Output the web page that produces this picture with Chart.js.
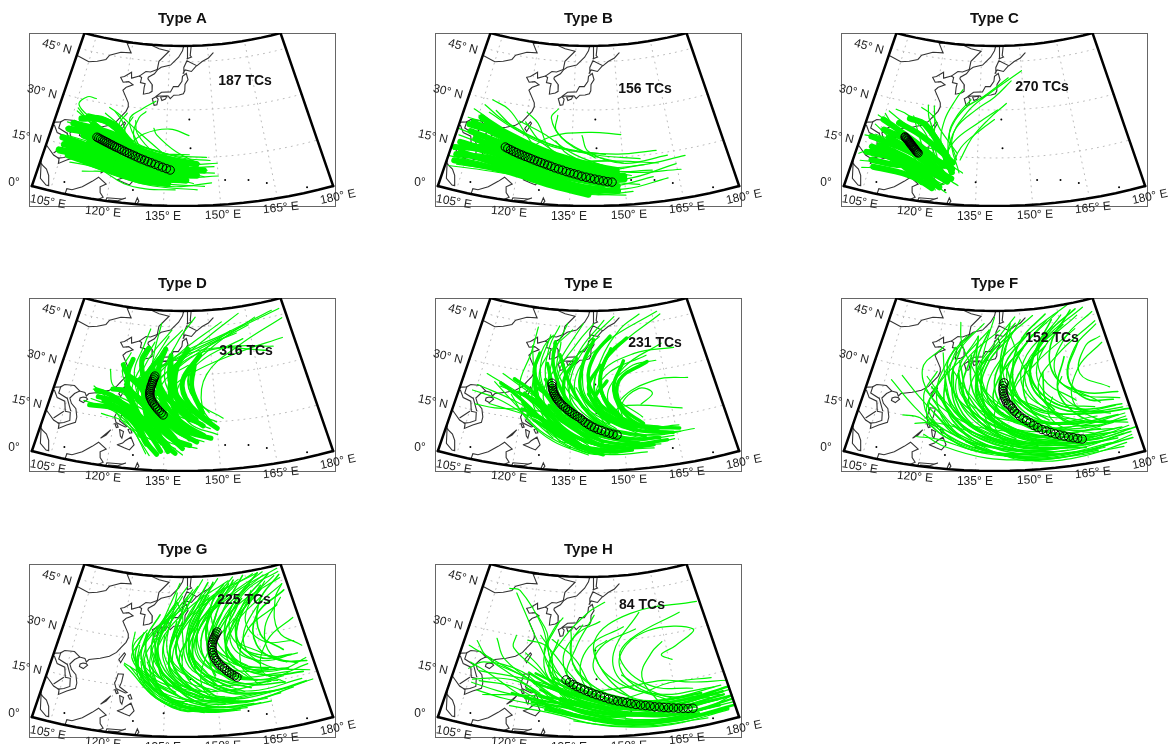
<!DOCTYPE html>
<html>
<head>
<meta charset="utf-8">
<script src="https://cdn.jsdelivr.net/npm/chart.js@4"></script>
<style>
html,body{margin:0;padding:0;background:#fff;width:1173px;height:744px;overflow:hidden;}
#page{position:relative;width:1173px;height:744px;overflow:hidden;}
canvas{position:absolute;}
</style>
</head>
<body>
<div id="page"></div>
<script>
// titles and counts
const typeNames = ['Type A','Type B','Type C','Type D','Type E','Type F','Type G','Type H'];
const tcCounts = [187,156,270,316,231,152,225,84];
const latTicks = ['45° N','30° N','15° N','0°'];
const lonTicks = ['105° E','120° E','135° E','150° E','165° E','180° E'];
const gridLons = [105,120,135,150,165];
const gridLats = [15,30,45];

// mean tracks (lon, lat)
const meanLonA = [136.5,135.4,134.3,133.2,132.1,131.0,130.0,129.0,128.0,127.1,126.2,125.3,124.4,123.6,122.8,122.0,121.2,120.4,119.7,119.0,118.3,117.6,117.0,116.4,115.8,115.2,114.6,114.0];
const meanLatA = [11.2,11.6,12.0,12.4,12.8,13.2,13.5,13.9,14.2,14.5,14.9,15.2,15.5,15.8,16.1,16.4,16.7,17.0,17.2,17.5,17.7,18.0,18.2,18.4,18.6,18.8,19.0,19.2];
const meanLonB = [146.5,145.3,144.1,142.9,141.7,140.5,139.3,138.1,137.0,135.9,134.8,133.7,132.6,131.5,130.4,129.3,128.3,127.3,126.3,125.3,124.3,123.3,122.4,121.5,120.6,119.7,118.8,117.9,117.0,116.1,115.3];
const meanLatB = [7.3,7.5,7.8,8.1,8.4,8.7,9.0,9.3,9.7,10.0,10.3,10.6,11.0,11.3,11.6,12.0,12.3,12.6,12.9,13.2,13.5,13.8,14.1,14.3,14.6,14.8,15.1,15.4,15.7,16.0,16.3];
const meanLonC = [117.6,117.3,117.0,116.7,116.4,116.2,115.9,115.7,115.4,115.2,114.9,114.7,114.5,114.3,114.0,113.8,113.5,113.3,113.0,112.8];
const meanLatC = [14.8,15.0,15.3,15.6,15.8,16.1,16.3,16.6,16.8,17.0,17.2,17.5,17.7,17.9,18.1,18.3,18.5,18.7,18.9,19.1];
const meanLonD = [134.2,133.6,133.0,132.4,131.9,131.4,130.9,130.5,130.2,129.9,129.8,129.7,129.7,129.8,129.9,130.0,130.2,130.3,130.5,130.7,130.9];
const meanLatD = [17.4,18.0,18.6,19.2,19.8,20.4,21.0,21.6,22.2,22.8,23.4,24.0,24.6,25.2,25.8,26.4,27.0,27.6,28.2,28.8,29.4];
const meanLonE = [148.1,147.0,145.9,144.8,143.7,142.7,141.7,140.8,139.9,139.0,138.2,137.5,136.7,135.9,135.1,134.4,133.7,133.0,132.3,131.6,131.0,130.5,130.1,129.7,129.3,129.0,128.7,128.5,128.3,128.2];
const meanLatE = [11.0,11.3,11.7,12.1,12.6,13.0,13.5,14.0,14.6,15.2,15.9,16.5,17.0,17.5,18.0,18.5,19.0,19.6,20.1,20.7,21.3,21.9,22.4,23.0,23.6,24.2,24.8,25.4,26.2,27.0];
const meanLonF = [164.4,163.2,162.0,160.8,159.6,158.4,157.2,156.0,154.8,153.6,152.5,151.4,150.4,149.4,148.4,147.5,146.7,146.0,145.4,144.8,144.3,143.8,143.5,143.2,143.0,142.8,142.7,142.7,142.8,143.1];
const meanLatF = [7.8,8.2,8.6,9.0,9.5,10.0,10.5,11.1,11.7,12.3,13.0,13.8,14.7,15.5,16.2,17.0,17.8,18.6,19.5,20.3,20.8,21.2,22.0,22.7,23.4,24.1,24.9,25.7,26.6,27.5];
const meanLonG = [156.3,155.6,154.9,154.2,153.5,152.9,152.3,151.6,151.1,150.6,150.2,149.9,149.7,149.6,149.6,149.7,149.9,150.2,150.5,150.9,151.3,151.7];
const meanLatG = [17.8,18.3,18.9,19.5,20.1,20.8,21.4,22.1,22.8,23.5,24.3,25.2,26.0,26.9,27.8,28.6,29.3,30.0,30.6,31.2,31.8,32.4];
const meanLonH = [168.7,167.4,166.1,164.8,163.5,162.2,160.9,159.7,158.4,157.2,155.9,154.6,153.3,152.0,150.8,149.6,148.3,147.0,145.8,144.6,143.4,142.2,141.0,139.9,138.8,137.7,136.6,135.5,134.4,133.3];
const meanLatH = [5.9,6.1,6.4,6.7,7.0,7.3,7.6,7.9,8.2,8.6,8.9,9.2,9.5,9.9,10.3,10.7,11.0,11.4,11.8,12.3,12.8,13.2,13.7,14.2,14.7,15.2,15.7,16.3,17.0,17.7];

// densest bundles of tracks in each panel (lon,lat,lon,lat,...)
const coreA = [[144,9.5,134,10,124,13,112,17],[146,11,136,12,125,15,110,19],[144,13,134,15,122,18,108,21],[141,8,131,8.5,120,11,107,14],[136,7,128,7.5,118,10,107,12],[136,14,127,17,118,21,106,22],[130,10,120,14,112,16,104,17],[132,11,124,19,118,24,110,25],[138,10,128,12,116,15,105,15],[128,8,118,12,110,13,104,13],[126,14,118,18,112,20,105,20],[124,18,119,23,114,25,108,24],[141,12,130,15,120,19,112,23],[134,9,124,11,114,14,106,16]];
const coreB = [[148,6,138,8,124,11,108,15],[150,8,142,9,126,12,106,17],[148,10,136,12,120,16,104,19],[144,5,132,7,118,10,103,12],[148,11,140,13,124,17,108,22],[140,3.5,130,6,116,9,102,9],[146,7,134,9,120,13,102,15],[142,12,130,14,118,18,104,22],[138,6,126,9,114,12,102,11],[136,14,126,17,114,21,106,24],[150,9,140,10,128,14,114,18],[144,9,134,11,122,14,110,17],[130,12,122,16,112,20,103,21],[148,4.5,138,5,128,7,118,9],[124,10,114,14,106,14,101,13]];
const coreC = [[128,8,122,11,116,15,108,18],[128,11,122,14,114,18,106,20],[124,6,120,9,113,12,104,14],[128,13,123,17,116,21,110,23],[125,5,120,8,110,12,103,12],[125,12,118,17,110,21,105,23],[128,10,126,14,123,19,118,24],[122,8,118,11,112,10,105,10],[127,7,121,10,114,13,106,15],[126,9,121,13,115,16,108,16],[126,15,122,20,118,24,113,25],[123,4.5,118,7,112,8,106,8],[124,10,117,14,110,16,103,17],[120,6,116,9,110,12,105,12]];
const coreD = [[142,12,136,17,130,22,126,28],[138,10,133,16,127,21,122,26],[146,14,139,19,133,26,132,32],[136,8,131,13,125,18,118,21],[142,10,138,18,136,26,138,33],[134,6,130,12,124,17,116,20],[130,14,128,22,128,29,132,35],[148,15,142,21,140,28,146,36],[132,10,128,16,122,20,114,21],[144,9,138,13,132,20,128,30],[140,7,135,12,130,18,124,24],[136,6,133,12,130,20,130,30],[133,5,129,10,126,18,122,24],[146,11,140,15,134,22,130,32],[144,16,136,22,128,26,122,29],[138,15,130,20,123,24,118,24],[150,13,144,18,138,24,136,34],[142,16,138,24,138,32,142,38],[136,14,133,24,132,32,134,38],[130,8,126,14,120,18,112,18],[128,11,124,18,118,22,113,23],[134,17,128,27,126,34,128,38],[140,19,136,28,136,36],[146,18,143,26,144,33],[148,10,142,12,136,15,130,16],[127,17,123,24,122,30,123,34],[131,18,127,25,122,29,120,32],[138,5.5,134,9,130,14,126,18],[142,8,137,10,132,14,126,16]];
const coreE = [[150,10,142,13,132,20,126,28],[156,10,146,13,134,19,124,25],[146,7,136,11,127,18,120,23],[160,9,150,10,138,16,130,24],[150,7,140,9,130,14,122,17],[142,12,134,20,132,28,136,35],[152,13,144,18,140,26,144,33],[138,8,132,13,126,20,118,23],[158,12,148,16,142,22,146,28],[162,8,150,8,138,12,128,20],[154,8,144,11,134,17,128,26],[148,6,138,8,128,14,120,20],[142,6,134,10,126,16,120,18],[144,9,136,15,130,23,126,33],[148,11,140,18,134,27,130,36],[154,12,146,20,144,30,148,38],[160,11,152,16,148,25,152,34],[164,10,154,12,146,16,140,24],[136,9,129,15,124,22,122,30],[140,10,130,17,122,24,116,27],[146,15,138,24,138,33,142,41],[150,16,144,25,146,35,154,41],[156,14,150,20,150,28,160,33],[140,14,132,24,128,33,128,40],[134,15,126,24,122,30,123,36],[152,6,144,6,136,9,130,14],[158,7,148,7,140,10,134,16],[130,12,122,19,116,23,112,25],[166,11,156,13,150,16,144,20],[144,20,140,28,142,36,148,42],[144,5,136,8,128,13,124,15]];
const coreF = [[170,7,156,8,142,13,132,20,128,30],[176,9,160,9,146,13,136,22,134,32],[165,5,150,7,138,11,128,18,124,26],[160,11,148,15,140,21,142,30,150,38],[172,12,156,14,146,20,148,30,158,38],[158,6,144,8,132,13,125,20,124,28],[178,7,164,6,150,9,140,15,134,25,138,36],[174,6,158,6,144,8,134,14,128,22,126,32],[168,8,154,9,142,14,136,24,138,34,146,42],[164,6,150,6,136,10,127,17,122,24],[178,5,162,4,148,5,136,9,128,15,124,22],[162,8,148,9,136,15,130,25,132,36],[156,5,142,7,130,11,124,17,120,20],[152,7,140,10,130,17,126,28,128,38],[176,13,162,13,150,16,142,24,144,34,152,42],[170,10,156,11,146,16,140,26,144,38],[166,13,154,15,146,22,146,32,154,42],[178,16,166,17,156,22,152,32,160,42,172,48],[158,9,146,12,136,20,132,30,134,40],[154,10,144,14,136,22,134,34,138,44],[150,11,140,15,132,23,128,34],[172,15,160,18,152,26,154,36,166,44],[178,20,168,22,160,28,160,38,170,48],[174,8,164,9,154,12,146,18,142,28],[160,4,148,4,136,7,128,12,122,17],[146,10,136,15,128,23,124,32,126,38],[164,9,156,13,150,21,150,30,158,40],[170,11,162,13,156,20,156,30],[178,11,170,12,164,16,160,24,164,34],[142,9,132,13,125,20,120,25],[156,15,148,21,146,31,150,41,160,48],[148,6,136,8,126,12,121,15],[180,8,168,7,156,8,146,11,138,17],[180,14,170,15,158,17,148,22,144,32],[168,3.5,154,3,142,5,132,9],[152,17,144,25,142,34,146,46],[176,18,168,20,164,28,170,38],[146,17,138,23,134,32,134,42],[158,18,152,26,154,36,162,46]];
const coreG = [[160,14,152,17,144,22,144,30,150,40],[168,15,156,18,150,24,152,32,162,42],[150,12,144,17,139,23,142,31,150,40],[172,18,160,20,154,26,158,35,170,44],[155,11,146,13,137,19,136,27,140,36],[158,10,148,12,140,18,136,26,138,36],[164,12,154,13,146,18,142,26,146,36],[170,14,160,15,152,19,148,27,152,38],[152,10,142,13,134,20,132,28,136,38],[148,9,140,12,134,18,132,25,130,32],[156,13,148,17,142,24,142,34,148,44],[176,16,166,17,158,21,154,30,160,40],[162,16,154,20,150,28,152,38,160,48],[146,12,138,16,132,23,132,33,138,42],[144,14,136,19,132,27,134,36],[154,15,146,20,142,28,146,38,156,47],[166,19,158,22,154,30,158,40,170,49],[174,22,164,23,158,30,162,40,174,48],[150,16,144,23,144,33,150,43],[158,18,150,24,148,33,152,44],[178,19,170,21,164,27,166,36,178,42],[140,12,132,17,127,24,128,32],[146,9,136,12,128,18,125,25,127,32],[152,8,144,8.5,136,12,130,18,127,24],[160,9,150,9,142,12,136,18],[168,11,158,10,148,12,140,17],[176,13,166,12,156,13,148,17],[148,14,140,21,138,30,144,40,150,48],[156,19,150,28,154,38,164,49],[164,21,158,27,160,36,170,45],[172,24,166,30,168,40,178,47],[142,15,136,22,138,34,144,44],[136,16,130,22,128,30,132,38],[150,19,146,28,150,38,158,47]];
const coreH = [[180,6,166,5,150,7,136,11,126,12],[178,9,162,8,146,10,132,14,124,16],[180,4,165,3.5,148,5,134,9,124,10],[172,7,156,6,140,8,126,12],[178,8,162,7,150,9,138,13,128,15],[176,5,160,5,146,8,132,12],[180,10,166,9,152,10,140,14,130,18],[174,9,158,9,144,11,132,16,124,19],[170,4,154,4,140,6,128,9],[180,7,168,7,156,8,144,9,132,11],[176,7,160,7,146,9,134,10,122,11],[178,3.5,164,3,150,3.5,138,6,128,8],[172,10,158,10,146,13,136,17],[166,8,152,8,140,12,130,15],[160,6,148,7,136,10,126,14],[150,6,140,7,130,11,122,14],[146,9,136,12,128,16,122,19],[142,5,132,8,124,11,118,12]];

// single tracks in each panel
const tracksA = [
[150,9,140,9,128,11,116,14,108,13],[147,15,136,16,124,19,112,22,106,23],[149,12,138,12,126,14,114,17,105,18],[146,6,134,7,122,9,112,12,104,12],
[144,5,132,6,122,8,114,10,108,10],[141,14,130,17,120,20,112,23,106,26],[136,16,126,19,120,24,115,27],[132,13,124,18,121,25,118,28],
[127,18,123,26,127,30,131,32.5],[118,20,112,24,106,28,108,31,111,31],[130,12,125,21,126,27,128,29],[136,11,126,16,122,22,124,27],
[150,13,142,13,130,14,118,16,106,14],[146,9,136,12,124,16,112,21,104,22],[148,7,138,6,128,7,120,9,112,8],[138,5,130,5,124,6,118,9],
[143,7,132,10,120,14,110,19,104,20],[133,8,124,11,116,13,108,11],[125,10,118,18,113,23,108,25],[128,8,118,11,110,14,106,14],
[147,11,134,13,118,18,110,24,106,27],[142,16,130,16,122,16,112,15],[149,10,140,11,132,16,126,22,125,26],[124,15,120,24,122,28],
[145,13,138,17,132,22,131,24],[135,7,126,9,116,13,106,17],[137,14,127,22,120,27,116,29],[148,14,140,15,128,18,116,19],[123,17,128,22,136,24,142,22]];
const tracksB = [
[168,13,155,12,140,12,124,15,108,20],[165,11,150,8,136,9,120,12,104,14],[158,8,146,6,132,7,118,10,102,11],[150,3,140,4,126,7,114,9,102,9],
[148,4,136,5,124,7,112,10,100,10],[160,16,148,16,132,18,118,22,108,26],[155,14,142,16,128,19,114,24,106,28],[162,7,150,5,138,6,126,9,116,11],
[145,16,130,18,118,22,110,27],[152,9,138,12,124,17,112,22,102,23],[156,12,142,11,128,13,112,17,100,19],[147,8,134,8,120,12,108,16,101,17],
[140,6,128,8,116,12,102,14],[152,4,142,3.5,132,5,124,8],[166,9,152,10,138,13,126,19,120,25],[150,13,138,17,130,23,130,28],[142,15,132,21,128,27,130,30],
[136,11,128,18,124,25,120,28],[128,12,120,22,114,28,108,30],[148,11,136,16,126,22,118,25],[160,12,145,14,130,13,114,13,102,15],[144,7,132,12,118,19,105,22],
[154,6,140,8,126,8,110,8,101,7],[146,14,132,14,118,15,104,14],[125,10,115,18,108,24,103,26],[135,8,124,11,112,9,103,8],[158,10,146,11,134,16,130,20],
[163,14,150,13,140,17,138,22],[130,9,118,14,106,15,101,13],[120,14,128,21,140,23,150,22]];
const tracksC = [
[130,10,127,20,131,29,138,35,150,42],[127,12,126,22,130,30,136,34,145,40],[129,14,126,22,128,28,132,33],[128,8,124,18,124,26,127,33,129,36],
[125,10,122,18,121,25,120,30],[123,8,119,16,116,22,114,26],[122,7,116,14,110,20,105,25],[120,9,112,14,106,17,101,17],
[126,6,118,9,110,10,102,9],[127,3.5,123,6,116,9,108,12],[124,4,122,8,119,12,113,15],[128,8,126,6,122,5,120,6],
[122,12,114,18,108,22,103,24],[127,15,122,21,119,26,118,30],[125,13,128,20,135,26,141,30],[128,12,130,18,136,24,140,27],
[126,16,128,24,134,30,140,34,146,39],[130,14,133,21,138,27,144,32],[118,10,110,13,104,13,101,11],[121,5,116,8,108,8,103,7],
[128,11,124,16,114,17,104,18],[126,11,118,13,110,17,103,21],[127,7,122,12,112,16,105,17],[125,15,116,21,110,24,106,26],
[123,14,118,22,112,26,108,27],[130,6,127,8,125,11,123,12],[131,10,128,12,126,15,122,18],[129,16,123,23,120,27,116,29]];
const tracksD = [
[146,14,134,20,130,28,138,36,155,42,175,47],[142,12,132,20,129,28,136,34,150,38,170,35],[138,10,130,18,128,26,134,33,150,40,178,47],[150,15,140,20,136,28,144,36,165,44],
[134,8,130,16,130,26,138,36,155,46],[140,9,132,15,126,24,128,34,136,44],[144,11,136,16,130,24,130,36,132,46],[136,12,128,20,124,30,126,38,128,44],
[148,13,140,17,136,24,142,30,160,36,176,38],[132,6,128,14,126,22,128,30,134,38],[130,5,126,12,120,18,112,20],[138,7,128,11,120,17,110,19],
[142,14,130,18,120,22,113,22],[136,15,126,21,118,25,116,30],[134,18,124,24,120,30,122,36],[150,11,142,15,138,24,146,34,162,40],
[152,16,144,22,142,30,150,38,168,46],[146,9,138,12,132,20,134,28,142,33],[134,14,130,22,134,30,146,38,160,42],[128,16,124,24,126,32,130,40],
[126,14,120,19,116,23,112,23],[140,5,134,10,128,15,120,18],[145,17,138,22,134,30,138,40,145,48],[132,12,130,24,136,32,150,42,162,48],
[136,19,130,26,132,36,140,44],[142,18,136,26,140,34,155,38,172,36],[148,18,142,26,146,36,158,43],[131,4.5,128,9,124,14,116,16],
[144,7,136,9,128,15,124,22],[128,10,122,15,118,20,112,24],[150,13,146,20,148,30,160,38,178,44],[124,18,126,26,130,34,135,42]];
const tracksE = [
[164,9,150,9,136,14,124,22,112,28],[160,7,148,8,134,14,120,22,107,27],[152,6,142,8,130,14,118,20,105,23],[146,5.5,134,9,122,16,112,20,104,21],
[140,5,130,9,122,15,116,22],[135,7,126,12,118,19,110,25],[130,10,122,17,118,25,120,36,121,44],[132,9,124,18,122,28,124,38,127,42],
[150,9,138,15,128,24,128,36,132,46],[156,9,144,14,134,24,136,36,146,47],[148,13,138,20,136,30,146,40,167,48],[158,12,146,18,142,28,150,38,168,47],
[162,12,150,16,146,24,154,32,163,33],[164,10,152,14,150,20,156,25,160,23,156,20],[142,11,136,18,134,28,140,40,150,48],[138,11,130,18,126,28,126,38,129,45],
[154,14,146,20,144,30,156,36,170,36],[160,11,150,16,150,22,162,27,172,26],[136,8,128,14,124,24,122,33],[144,7,134,12,126,20,122,30,120,38],
[152,8,140,12,130,20,124,30,126,42],[166,12,154,13,148,18,152,20,168,17],[158,6,146,7,134,11,124,15],[164,8,152,7,142,7,132,9],
[156,5,146,5,136,7,128,12],[148,5,140,5.5,134,9,130,13],[144,14,134,17,122,18,112,17,106,17],[128,15,118,17,110,18],
[136,18,130,26,134,34,144,42],[148,17,142,24,144,34,152,44,160,48],[130,21,124,28,126,36,134,44],[144,9,132,18,130,30,136,40,142,46],
[170,10,158,10,146,13,138,20],[166,10,152,11,142,17,136,26],[150,15,140,22,138,32,140,38],[146,12,142,22,146,30,160,35],
[134,12,126,22,130,34,138,46],[156,16,148,24,152,32,166,38],[140,8,128,16,120,22,112,24],[154,11,140,19,130,30,130,40]];
const tracksF = [
[178,9,165,7,150,8,136,13,126,20,118,28],[176,7,162,5,146,6,132,11,122,20,116,30,122,38],[172,5,156,4,140,6,128,12,122,22,124,34,130,42],[168,4,152,3.5,138,6,126,11,116,18,107,25],
[174,11,160,10,146,12,134,18,126,26,126,36,132,43],[178,13,164,12,150,14,138,21,134,30,140,40,148,48],[170,14,156,14,144,17,136,25,138,36,148,46],[176,16,162,16,150,20,144,30,152,40,165,48],
[160,5,146,5,132,8,122,14,118,22,121,30],[155,4,140,5,128,9,120,16,122,26,130,36,138,44],[150,3,138,4,126,7,120,10],[178,6,166,4,152,5,142,8,134,11],
[172,8,156,7,142,10,130,17,124,27,128,38,136,46],[166,7,150,8,136,14,128,24,130,34,142,44],[162,9,148,11,138,18,134,28,140,38,155,48],[158,12,146,15,138,22,140,32,152,42,170,50],
[176,11,164,14,154,20,150,30,158,40,175,48],[170,17,160,20,154,28,158,38,172,46],[178,18,166,22,160,30,166,40,178,46],[164,14,152,18,146,28,150,38,160,46],
[156,8,142,9,130,13,122,14,117,13],[150,5,136,6,124,9,118,9],[146,12,134,14,124,19,118,24],[175,3,160,3,146,4,136,8,128,14],
[178,10,170,13,164,20,168,30,178,36],[172,18,164,26,168,36,178,42],[176,22,168,28,172,36,178,38],[160,16,150,24,150,34,162,44],
[154,12,142,18,136,28,136,36,140,48],[168,6,154,6,144,9,138,15,136,24],[150,8,138,11,128,19,124,28,122,36],[144,5,132,7,124,13,120,19,124,31],
[160,7,144,10,134,19,128,30,134,42],[174,9,158,12,146,19,142,28,146,44],[164,4,150,5,142,10,140,18,146,30],[178,15,168,16,156,22,150,32,146,42],
[166,11,158,17,154,26,162,35,178,43],[142,7,130,10,122,17,116,22,110,27],[178,8,170,8,160,8,150,11],[170,4,158,3,148,3,142,5],
[155,18,145,25,143,36,150,47],[165,20,156,28,156,38,166,47],[152,14,140,17,130,23,128,31],[148,16,138,24,132,33,128,40,127,46],
[162,12,150,12,140,16,132,24,126,31],[178,12,168,11,158,12,148,15],[174,14,166,17,160,24,162,28],[168,9,160,12,156,17,158,22],
[158,10,150,14,146,24,154,33,170,42],[146,8,138,13,132,22,136,34,148,44],[172,6,160,7,150,10,142,15],[136,6,126,10,118,15,113,15],[176,4,164,2.5,152,2.5,144,5]];
const tracksG = [
[160,10,148,10,136,14,126,20,122,22],[170,16,155,14,140,15,128,20,124,27,128,33],[165,12,150,11,136,13,127,20,128,30,136,38],[158,8,146,8,134,13,128,22,132,32,140,42],
[155,7.5,142,10,132,16,130,26,136,36,146,47],[150,8,140,10,132,17,132,28,142,40,158,48],[162,12,148,12,138,20,138,30,148,42,170,49],[175,14,160,13,146,17,138,26,144,38,162,48],
[178,18,164,16,150,20,144,28,152,40,172,49],[172,17,156,18,146,24,146,34,160,44,178,49],[168,19,156,22,150,30,156,40,172,48],[176,22,164,22,156,28,160,38,176,47],
[178,16,166,20,160,28,166,38,178,44],[150,14,140,18,134,26,136,36,138,45],[148,11,136,12,128,19,124,26,124,32],[142,10,132,14,126,22,130,32,140,40],
[152,9,144,9,136,11,130,17,128,24],[146,7.5,138,9,130,14,126,20,126,28],[158,15,146,17,138,26,142,38,150,46],[164,18,152,22,148,32,156,44,168,49],
[170,22,160,26,156,34,164,44,178,48],[176,26,166,28,162,36,172,46],[154,18,146,26,146,38,152,48],[160,21,150,28,150,40,160,49],
[140,14,132,20,130,30,136,40,142,47],[144,17,136,24,136,36,144,46],[156,11,146,14,140,22,144,34,160,46],[165,9,155,8.5,146,10,138,15],
[172,12,160,10,150,11,142,14],[178,13,168,12,156,13,146,18],[158,13,150,18,150,30,160,40,178,46],[148,19,142,28,146,40,154,49],
[166,15,156,16,146,21,142,32,150,44],[175,19,168,23,168,32,176,40],[178,24,172,30,174,40,178,44],[152,12,142,13,134,19,132,30,140,44],
[160,17,154,24,158,34,170,42],[168,12,156,11,144,13,134,20,130,27],[150,17,142,22,140,32,140,38,138,42],[146,14,136,18,130,27,134,38,139,48],
[142,18,136,26,140,38,148,49],[156,21,150,26,154,36,166,46],[162,15,158,22,162,32,174,38],[170,14,164,19,168,28,178,33],
[135,17,128,22,128,28],[138,14,130,18,124,24,126,29],[154,10,146,11,139,16,134,24,134,32],[164,10,154,10,146,15,148,26,158,36],
[178,20,170,18,160,20,152,28,150,38],[148,9,141,8,134,11,130,15],[156,8,150,7.5,144,8,138,11],[172,20,164,25,158,30,166,44],[140,24,138,32,142,44],[144,21,142,30,148,42,152,48],[150,22,148,34,156,46],
[150,8,141,8.5,134,11,129,16,127,23],[147,9,138,9.5,131,13,127,19,125,25],[144,9,136,10.5,130,14,125,19,122,21.5],[156,7.5,148,7.5,140,9.5,134,14,131,20],[152,7.5,146,8,138,10,133,15,129,23],[140,10,134,12,128,17,124,21],[162,9,152,8,144,9,136,12,132,17]];
const tracksH = [
[178,7,160,6,144,9,128,15,114,20,102,24],[180,9,164,8,148,10,132,15,120,17,107,17],[176,3,160,3,144,5,128,10,118,14,108,14],[174,5,158,4,142,6,128,9,116,10,108,11],
[178,11,162,10,146,11,132,17,128,24,124,34,114,44,110,44],[172,10,156,10,142,13,130,20,124,28,117,38,113,43],[168,9,150,9,136,15,128,24,126,32,122,37],[170,6,152,6,138,10,128,18,126,26,130,36],
[160,6,146,9,134,18,136,28,142,38],[176,11,160,12,146,19,142,30,155,38,179,38],[178,8,162,11,152,17,150,25,160,32,175,30,168,26,163,24,166,22],[170,12,158,15,150,24,154,30,172,36],
[165,8,152,12,142,20,144,28,156,33],[158,7,146,10,138,18,140,28,152,34],[164,7,150,11,138,19,134,28,138,35],[148,7,136,12,128,20,130,30],
[155,8,142,12,134,20,126,28,120,29],[152,5,138,8,126,15,114,22,110,28],[146,6,132,10,122,17,112,20],[142,8,130,12,120,19,108,20,104,17],
[180,5,166,5,152,7,138,11,124,12,110,10],[172,2,156,2.5,142,4,130,7,118,8],[166,3,150,4,136,7,124,9],[178,3,162,2,148,3,136,5],
[180,12,170,14,162,16,150,15,140,14],[176,14,164,15,156,13,148,11],[178,10,168,8,156,7,144,7],[180,7,172,5,162,4,150,5],
[140,10,132,16,126,25,128,33,131,37],[136,9,130,17,128,26,124,31],[150,9,142,14,136,24,128,30],[134,11,126,19,116,26,116,30],
[128,10,122,15,114,16,106,14],[126,13,116,18,108,22,104,26],[138,12,130,16,124,22,120,25],[144,11,136,16,132,24,136,32,144,36],
[154,10,146,18,142,27,146,30],[160,9,156,18,160,25,164,28],[162,10,150,17,148,26,158,38],[132,13,128,22,132,31,140,39,146,42],
[124,11,114,12,106,13],[130,8,120,12,110,17,104,19],[168,5,156,8,146,13,136,21,134,33],[174,8,164,10,154,16,150,19]];

// map outlines (lon,lat,lon,lat,...)
const coastlines = [
[140.5,50,140,48.5,138.5,46.5,135.5,44,132,43.2,130.7,42.3,129.7,41,127.6,39.8,127.5,39.3,129.3,37.5,129.4,35.5,128.5,34.9,126.5,34.4,126.5,36.5,126.7,37.7,125,37.9,125.2,39.5,124.3,39.9,121.7,39,121.3,40.8,119,39.2,117.7,38.8,118.9,37.4,120.8,37.8,122.5,37,120.3,36,119.3,34.9,120.9,32.6,121.8,31.2,122,30,121.5,28.5,120,26.5,119,25,117,23.5,114.3,22.4,111,21.4,110.4,20.5,109.7,21.5,108,21.6,106.7,20.5,105.7,18.8,106.6,17.3,108.3,16,109.2,13.5,109.2,11.8,107,10.4,105,8.8,104.8,10.3,103,11,101,12.7,100,13.5],
[100,42.7,105,41.7,108,42.4,111,43.5,112,45,116,46.5,119.9,46.8,117.8,49.5,120,50],[120,50,127.5,49.8,130.7,48.9,134.7,48.3,131,45,130.6,42.4],[124.3,39.9,126.5,41.5,128.2,41.5,130.6,42.4],
[108,21.6,106,22.9,103,22.5,102,21.5,100.5,21],[100.5,20,102,18,104.5,17.5,105.5,14.5,107,14.5,107.5,12,106,11,104.5,10.4],[102.9,11.7,105,14.3],[102,21.5,102,19.5,105,18.5,107,15],
[100,13.5,100,9,101.5,3,103.5,1.4,104.2,1.4,103.4,4.5,102.3,6.2,101,7,100,8],
[109,0,109.1,1.7,110.5,1.7,113,3.2,115.3,5.4,116.8,7,119.2,5.2,117.7,4.1,118,2.3,119,1,117.6,0],[119.8,0,120,1,124,1.2,125,1.6,123,0.5,120.5,0.4],[127.5,0,128,2,128.5,1,128,0],
[122,7,123.4,7.7,124,8.5,125.5,9.8,126.6,7.5,125.5,5.8,124,6.3,122,7],[117.2,8.4,119.5,11.3,118.5,9.5,117.2,8.4],[120.6,18.5,122.2,18.5,122,16,121.6,14.5,124,13,123.5,12.8,120.7,13.8,120,15.5,120.3,16.5,120.6,18.5],[125,12.5,125.6,11.2,125,11,124.4,12,125,12.5],[122,11.8,123.2,11.3,123,9.2,122.5,9.8,122,11.8],[121,13.4,121.5,12.5,121,12.3,120.4,13.4,121,13.4],
[121.5,25.2,121.9,24.8,120.8,22,120.1,23,121.5,25.2],[110.5,20,111,19.6,110,18.3,108.7,18.7,108.7,19.5,109.5,20,110.5,20],
[130.9,33.9,131.7,33.2,131.4,31.4,130.5,31.2,129.7,33.2,130.9,33.9],[132.5,33.9,134.6,34.2,134.2,33.3,133,32.8,132.5,33.9],[130.9,34,132.7,35.4,135.8,35.6,136.8,37.3,138.5,37.3,139.8,39,140,40.5,141.4,41.4,142,39.5,140.9,38,140.8,36,140.3,35.1,138.8,34.7,137,34.6,135.8,33.5,135.1,34.3,132.5,34.2,130.9,34],[140.2,41.5,140.5,43.3,141.7,45.4,145.3,43.8,143.3,42,141,42.5,140.2,41.5],[141.8,46,142,49,142,50],[143.5,50,143,47,143.5,46.5,141.8,46],[145.5,43.8,147.5,45,150,46,152,47.5]];
const islandLon = [142.2,142.4,134.8,151.8,158.2,163,173.3,126.6,108];
const islandLat = [27,18,7.3,7.6,6.9,5.2,1.6,4.3,3.6];

// page placement
const panelLeft = [0,406,812,0,406,812,0,406];
const panelTop = [0,0,0,265,265,265,531,531];
const tcLabelX = [216,210,201,217,220,211,215,207];
const tcLabelY = [48,56,54,53,45,40,36,41];
const latTickPos = [[28,14,15],[13,59,13],[-2,104,12],[-15,150,0]];
const lonTickPos = [[19,169,10],[74,179,5],[134,184,0],[194,182,-2],[252,175,-6],[309,164,-12]];

// conic map projection into the panel's plotting units
function mapX(lon,lat){
  const th = (lon-140)*0.425*Math.PI/180;
  return 153.5 + 1.125*(458-3.2*lat)*Math.sin(th);
}
function mapY(lon,lat){
  const th = (lon-140)*0.425*Math.PI/180;
  return -285 + (458-3.2*lat)*Math.cos(th);
}
function toPoints(flat){
  const pts = [];
  for(let i=0;i<flat.length;i+=2) pts.push({x:mapX(flat[i],flat[i+1]),y:mapY(flat[i],flat[i+1])});
  return pts;
}
function meridian(lon,from,to){
  const flat = [];
  for(let lat=from;lat<=to;lat+=5) flat.push(lon,lat);
  return toPoints(flat);
}
function parallel(lat,from,to){
  const flat = [];
  for(let lon=from;lon<=to;lon+=4) flat.push(lon,lat);
  return toPoints(flat);
}
function lineSet(data,color,width,dash,tension){
  return {data:data,showLine:true,borderColor:color,backgroundColor:color,borderWidth:width,borderDash:dash||[],borderCapStyle:'round',pointRadius:0,tension:tension||0,fill:false};
}

const labelPlugin = {
  id:'mapLabels',
  beforeDraw(chart){
    const a = chart.chartArea, c = chart.ctx;
    c.save();
    c.strokeStyle = '#666';
    c.lineWidth = 1;
    c.strokeRect(a.left+0.5,a.top+0.5,a.width-1,a.height-1);
    c.restore();
  },
  afterDraw(chart,args,opts){
    const a = chart.chartArea, c = chart.ctx;
    c.save();
    c.fillStyle = '#222';
    c.font = '12px "Liberation Sans"';
    c.textAlign = 'center';
    c.textBaseline = 'middle';
    const put = (txt,pos) => {
      c.save();
      c.translate(a.left+pos[0],a.top+pos[1]);
      c.rotate(pos[2]*Math.PI/180);
      c.fillText(txt,0,0);
      c.restore();
    };
    latTicks.forEach((t,i)=>put(t,latTickPos[i]));
    lonTicks.forEach((t,i)=>put(t,lonTickPos[i]));
    c.fillStyle = '#111';
    c.font = 'bold 14px "Liberation Sans"';
    c.fillText(opts.count+' TCs',a.left+opts.x,a.top+opts.y);
    c.restore();
  }
};

const meanLon = [meanLonA,meanLonB,meanLonC,meanLonD,meanLonE,meanLonF,meanLonG,meanLonH];
const meanLat = [meanLatA,meanLatB,meanLatC,meanLatD,meanLatE,meanLatF,meanLatG,meanLatH];
const coreTracks = [coreA,coreB,coreC,coreD,coreE,coreF,coreG,coreH];
const singleTracks = [tracksA,tracksB,tracksC,tracksD,tracksE,tracksF,tracksG,tracksH];
const coreWidth = [6.5,6,6,5,3.5,1.6,1.6,2.5];
const green = 'rgb(0,245,0)';

typeNames.forEach((name,i)=>{
  const canvas = document.createElement('canvas');
  canvas.width = 390; canvas.height = 262;
  canvas.style.left = panelLeft[i]+'px';
  canvas.style.top = panelTop[i]+'px';
  document.getElementById('page').appendChild(canvas);

  // first dataset ends up on top
  const datasets = [];
  datasets.push({
    data:meanLon[i].map((lon,k)=>({x:mapX(lon,meanLat[i][k]),y:mapY(lon,meanLat[i][k])})),
    showLine:false,pointRadius:4.2,pointBorderColor:'#000',pointBackgroundColor:'rgba(0,0,0,0)',pointBorderWidth:1
  });
  datasets.push(lineSet(parallel(0,100,180),'#000',2.5));
  datasets.push(lineSet(parallel(50,100,180),'#000',2.5));
  datasets.push(lineSet(meridian(100,0,50),'#000',2.5));
  datasets.push(lineSet(meridian(180,0,50),'#000',2.5));
  singleTracks[i].forEach(t=>datasets.push(lineSet(toPoints(t),green,1.2,null,0.4)));
  coreTracks[i].forEach(t=>datasets.push(lineSet(toPoints(t),green,coreWidth[i],null,0.4)));
  coastlines.forEach(t=>datasets.push(lineSet(toPoints(t),'#333',1.1)));
  datasets.push({data:toPoints(islandLon.flatMap((lon,k)=>[lon,islandLat[k]])),showLine:false,pointRadius:1,pointBackgroundColor:'#000',pointBorderWidth:0});
  gridLons.forEach(lon=>datasets.push(lineSet(meridian(lon,0,50),'#bbb',1,[1,5])));
  gridLats.forEach(lat=>datasets.push(lineSet(parallel(lat,100,180),'#bbb',1,[1,5])));

  new Chart(canvas.getContext('2d'),{
    type:'scatter',
    data:{datasets:datasets},
    options:{
      responsive:false,
      animation:false,
      events:[],
      layout:{padding:{left:29,right:54,top:0,bottom:55}},
      plugins:{
        legend:{display:false},
        tooltip:{enabled:false},
        title:{display:true,text:name,color:'#111',font:{family:'"Liberation Sans"',size:15,weight:'bold',lineHeight:1.2},padding:{top:10,bottom:5}},
        mapLabels:{count:tcCounts[i],x:tcLabelX[i],y:tcLabelY[i]}
      },
      scales:{
        x:{type:'linear',display:false,min:0,max:307},
        y:{type:'linear',display:false,min:0,max:174,reverse:true}
      }
    },
    plugins:[labelPlugin]
  });
});
</script>
</body>
</html>
